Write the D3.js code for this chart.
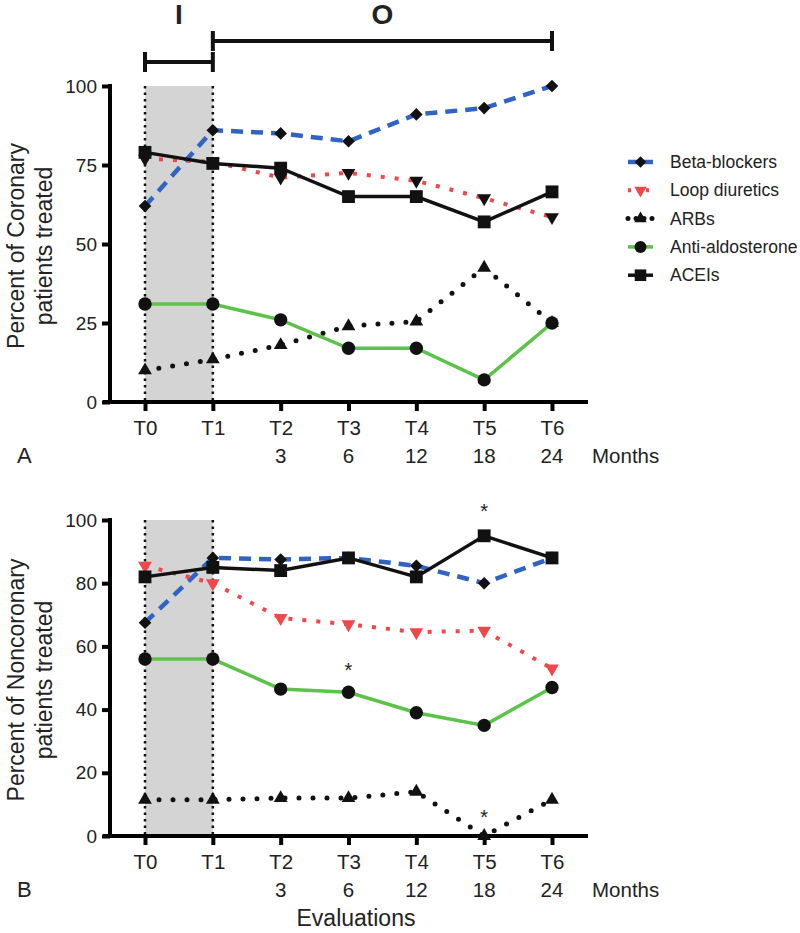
<!DOCTYPE html>
<html>
<head>
<meta charset="utf-8">
<script src="https://cdn.jsdelivr.net/npm/d3@7"></script>
<style>
  body { margin: 0; background: #fff; }
  text { font-family: "Liberation Sans", Arial, sans-serif; fill: #222; }
</style>
</head>
<body>
<div id="chart"></div>
<script>
// Evaluations and months
var times = ["T0", "T1", "T2", "T3", "T4", "T5", "T6"];
var months = ["", "", "3", "6", "12", "18", "24"];

// Panel A - Coronary
var coronaryBeta = [62, 86, 85, 82.5, 91, 93, 100];
var coronaryLoop = [77, 76, 71, 72.5, 70, 64.5, 58.5];
var coronaryArb = [10, 13.5, 18, 24, 25.5, 42.5, 25];
var coronaryAldo = [31, 31, 26, 17, 17, 7, 25];
var coronaryAcei = [79, 75.5, 74, 65, 65, 57, 66.5];
var coronaryTicks = [0, 25, 50, 75, 100];

// Panel B - Noncoronary
var nonBeta = [67.5, 88, 87.5, 88, 85.5, 80, 88];
var nonLoop = [85.5, 80, 69, 67, 64.5, 65, 53];
var nonArb = [11.5, 11.5, 12, 12, 14, 0, 11.5];
var nonAldo = [56, 56, 46.5, 45.5, 39, 35, 47];
var nonAcei = [82, 85, 84, 88, 82, 95, 88];
var nonTicks = [0, 20, 40, 60, 80, 100];

var seriesNames = ["Beta-blockers", "Loop diuretics", "ARBs", "Anti-aldosterone", "ACEIs"];

var svgWidth = 800;
var svgHeight = 933;

var svg = d3.select("#chart")
    .append("svg")
    .attr("width", svgWidth)
    .attr("height", svgHeight);

var xScale = d3.scalePoint()
    .domain(times)
    .range([145, 552]);

// line styles per series
var styles = {
    "Beta-blockers": { color: "#3063c2", width: 4.5, dash: "12 8", cap: "butt", symbol: "diamond" },
    "Loop diuretics": { color: "#f0474a", width: 4, dash: "4 10", cap: "butt", symbol: "down" },
    "ARBs": { color: "#111", width: 5, dash: "0 14", cap: "round", symbol: "up" },
    "Anti-aldosterone": { color: "#5cc24a", width: 3.5, dash: null, cap: "butt", symbol: "circle" },
    "ACEIs": { color: "#111", width: 3.5, dash: null, cap: "butt", symbol: "square" }
};

function symbolPath(kind) {
    if (kind === "diamond") return d3.symbol().type(d3.symbolSquare).size(80)();
    if (kind === "down" || kind === "up") return d3.symbol().type(d3.symbolTriangle).size(82)();
    if (kind === "circle") return d3.symbol().type(d3.symbolCircle).size(140)();
    return d3.symbol().type(d3.symbolSquare).size(165)();
}

function symbolRotate(kind) {
    if (kind === "diamond") return 45;
    if (kind === "down") return 180;
    return 0;
}

function drawPanel(cfg) {
    var yScale = d3.scaleLinear()
        .domain([0, 100])
        .range([cfg.bottom, cfg.top]);

    var g = svg.append("g");

    // grey shaded induction period
    g.append("rect")
        .attr("x", xScale("T0"))
        .attr("y", yScale(100))
        .attr("width", xScale("T1") - xScale("T0"))
        .attr("height", yScale(0) - yScale(100))
        .attr("fill", "#d4d4d4");

    // dotted verticals at T0 and T1
    ["T0", "T1"].forEach(function(t) {
        g.append("line")
            .attr("x1", xScale(t)).attr("x2", xScale(t))
            .attr("y1", yScale(100)).attr("y2", yScale(0))
            .attr("stroke", "#111")
            .attr("stroke-width", 2.5)
            .attr("stroke-dasharray", "2.5 4");
    });

    // y axis
    var yAxis = d3.axisLeft(yScale)
        .tickValues(cfg.ticks)
        .tickSize(8)
        .tickPadding(5);
    var yg = g.append("g")
        .attr("transform", "translate(110,0)")
        .call(yAxis);
    yg.select(".domain").attr("stroke-width", 4).attr("d", "M0," + (yScale(100) - 2) + "V" + yScale(0));
    yg.selectAll(".tick line").attr("stroke-width", 4);
    yg.selectAll(".tick text")
        .style("font-family", "Liberation Sans, Arial, sans-serif")
        .style("font-size", "19px")
        .attr("fill", "#222");

    // x axis
    var xAxis = d3.axisBottom(xScale)
        .tickSize(9)
        .tickPadding(9);
    var xg = g.append("g")
        .attr("transform", "translate(0," + yScale(0) + ")")
        .call(xAxis);
    xg.select(".domain").attr("stroke-width", 4).attr("d", "M103,0H588");
    xg.selectAll(".tick line").attr("stroke-width", 4);
    xg.selectAll(".tick text")
        .style("font-family", "Liberation Sans, Arial, sans-serif")
        .style("font-size", "20.5px")
        .attr("fill", "#222");

    // months row
    g.selectAll(".month")
        .data(times)
        .enter()
        .append("text")
        .attr("x", d => xScale(d))
        .attr("y", yScale(0) + 61)
        .attr("text-anchor", "middle")
        .style("font-size", "20.5px")
        .text((d, i) => months[i]);

    g.append("text")
        .attr("x", 592)
        .attr("y", yScale(0) + 61)
        .style("font-size", "20.5px")
        .text("Months");

    // panel letter
    g.append("text")
        .attr("x", 17)
        .attr("y", yScale(0) + 61)
        .style("font-size", "22px")
        .text(cfg.letter);

    // y title
    var midY = (yScale(0) + yScale(100)) / 2 + 2;
    var title = g.append("text")
        .attr("transform", "translate(24," + midY + ") rotate(-90)")
        .attr("text-anchor", "middle")
        .style("font-size", "23px");
    title.append("tspan").attr("x", 0).attr("y", 0).text(cfg.title1);
    title.append("tspan").attr("x", 0).attr("y", 28).text("patients treated");

    var line = d3.line()
        .x((d, i) => xScale(times[i]))
        .y(d => yScale(d));

    cfg.series.forEach(function(values, si) {
        var name = seriesNames[si];
        var st = styles[name];
        g.append("path")
            .datum(values)
            .attr("d", line)
            .attr("fill", "none")
            .attr("stroke", st.color)
            .attr("stroke-width", st.width)
            .attr("stroke-linecap", st.cap)
            .attr("stroke-dasharray", st.dash);

        var markerColor = (name === "Loop diuretics") ? cfg.loopMarker : "#111";
        g.selectAll(".m" + si)
            .data(values)
            .enter()
            .append("path")
            .attr("d", symbolPath(st.symbol))
            .attr("transform", (d, i) => "translate(" + xScale(times[i]) + "," + yScale(d) + ") rotate(" + symbolRotate(st.symbol) + ")")
            .attr("fill", markerColor);
    });

    return yScale;
}

drawPanel({
    top: 86, bottom: 402, ticks: coronaryTicks, letter: "A",
    title1: "Percent of Coronary", loopMarker: "#111",
    series: [coronaryBeta, coronaryLoop, coronaryArb, coronaryAldo, coronaryAcei]
});

var yB = drawPanel({
    top: 520, bottom: 836, ticks: nonTicks, letter: "B",
    title1: "Percent of Noncoronary", loopMarker: "#f0474a",
    series: [nonBeta, nonLoop, nonArb, nonAldo, nonAcei]
});

// significance asterisks in panel B
var stars = [
    { t: "T5", v: nonAcei[5], dy: -18 },
    { t: "T3", v: nonAldo[3], dy: -15 },
    { t: "T5", v: nonArb[5], dy: -12 }
];
svg.selectAll(".star")
    .data(stars)
    .enter()
    .append("text")
    .attr("x", d => xScale(d.t))
    .attr("y", d => yB(d.v) + d.dy)
    .attr("text-anchor", "middle")
    .style("font-size", "20px")
    .text("*");

svg.append("text")
    .attr("x", 356)
    .attr("y", 926)
    .attr("text-anchor", "middle")
    .style("font-size", "23px")
    .text("Evaluations");

// induction / observation brackets
var brackets = [
    { label: "I", from: "T0", to: "T1", y: 62, cap: 10 },
    { label: "O", from: "T1", to: "T6", y: 41, cap: 10 }
];
brackets.forEach(function(b) {
    var x1 = xScale(b.from), x2 = xScale(b.to);
    var bg = svg.append("g").attr("stroke", "#111").attr("stroke-width", 4);
    bg.append("line").attr("x1", x1).attr("x2", x2).attr("y1", b.y).attr("y2", b.y);
    bg.append("line").attr("x1", x1).attr("x2", x1).attr("y1", b.y - b.cap).attr("y2", b.y + b.cap);
    bg.append("line").attr("x1", x2).attr("x2", x2).attr("y1", b.y - b.cap).attr("y2", b.y + b.cap);
    svg.append("text")
        .attr("x", (x1 + x2) / 2)
        .attr("y", 24)
        .attr("text-anchor", "middle")
        .style("font-size", "28px")
        .style("font-weight", "bold")
        .text(b.label);
});

// legend
var legend = svg.append("g").attr("transform", "translate(628,162)");
seriesNames.forEach(function(name, i) {
    var st = styles[name];
    var row = legend.append("g").attr("transform", "translate(0," + (i * 28.3) + ")");
    row.append("line")
        .attr("x1", 0).attr("x2", 25)
        .attr("stroke", st.color)
        .attr("stroke-width", st.width)
        .attr("stroke-linecap", st.cap)
        .attr("stroke-dasharray", name === "ARBs" ? "0 8" : (name === "Loop diuretics" ? "3 6" : null));
    row.append("path")
        .attr("d", symbolPath(st.symbol))
        .attr("transform", "translate(12.5,0) rotate(" + symbolRotate(st.symbol) + ") scale(0.9)")
        .attr("fill", name === "Loop diuretics" ? "#f0474a" : "#111");
    row.append("text")
        .attr("x", 42)
        .attr("y", 6)
        .style("font-size", "17.5px")
        .text(name);
});
</script>
</body>
</html>
